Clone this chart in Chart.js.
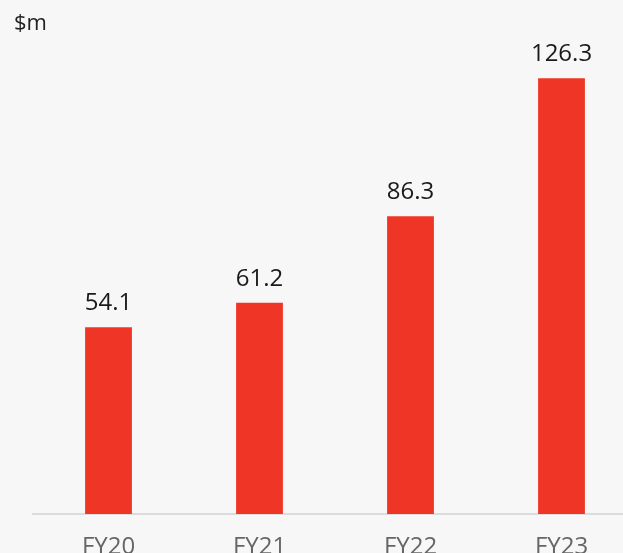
<!DOCTYPE html>
<html>
<head>
<meta charset="utf-8">
<script src="https://cdn.jsdelivr.net/npm/chart.js@4"></script>
<style>
  html, body { margin: 0; padding: 0; background: #f7f7f7; overflow: hidden; }
  #wrap { position: relative; width: 623px; height: 553px; overflow: hidden; }
  #unit { position: absolute; left: 14px; top: 6px; font: 22px "Open Sans", sans-serif; color: #222; }
  #myChart { position: absolute; left: 0; top: 0; }
</style>
</head>
<body>
<div id="wrap">
  <canvas id="myChart" width="637" height="600" style="width:637px;height:600px"></canvas>
  <div id="unit">$m</div>
</div>
<script>
const categories = ['FY20', 'FY21', 'FY22', 'FY23'];
const revenue = [54.1, 61.2, 86.3, 126.3];

const valueLabels = {
  id: 'valueLabels',
  afterDatasetsDraw(chart) {
    const ctx = chart.ctx;
    const meta = chart.getDatasetMeta(0);
    ctx.save();
    ctx.font = '24px "Open Sans", sans-serif';
    ctx.fillStyle = '#1a1a1a';
    ctx.textAlign = 'center';
    ctx.textBaseline = 'bottom';
    meta.data.forEach(function (bar, i) {
      ctx.fillText(revenue[i].toFixed(1), bar.x, bar.y - 12);
    });
    ctx.restore();
  }
};

window.onload = preparePage();

function preparePage(){
  const ctx = document.getElementById('myChart').getContext('2d');
  const myChart = new Chart(ctx, {
    type: 'bar',
    data: {
      labels: categories,
      datasets: [{
        data: revenue,
        backgroundColor: 'rgb(239,53,38)',
        borderWidth: 0,
        barPercentage: 0.62,
        categoryPercentage: 0.5
      }]
    },
    options: {
      responsive: false,
      animation: false,
      layout: { padding: { left: 33, top: 31, right: 0, bottom: 0 } },
      plugins: { legend: { display: false }, tooltip: { enabled: false } },
      scales: {
        x: {
          grid: { display: false, drawTicks: false },
          border: { display: true, color: '#dcdcdc', width: 2 },
          ticks: { color: '#666', font: { family: '"Open Sans", sans-serif', size: 24 }, padding: 19 },
          afterFit: function (scale) { scale.height = 86; }
        },
        y: { display: false, min: 0, max: 140 }
      }
    },
    plugins: [valueLabels]
  });
}
</script>
</body>
</html>
